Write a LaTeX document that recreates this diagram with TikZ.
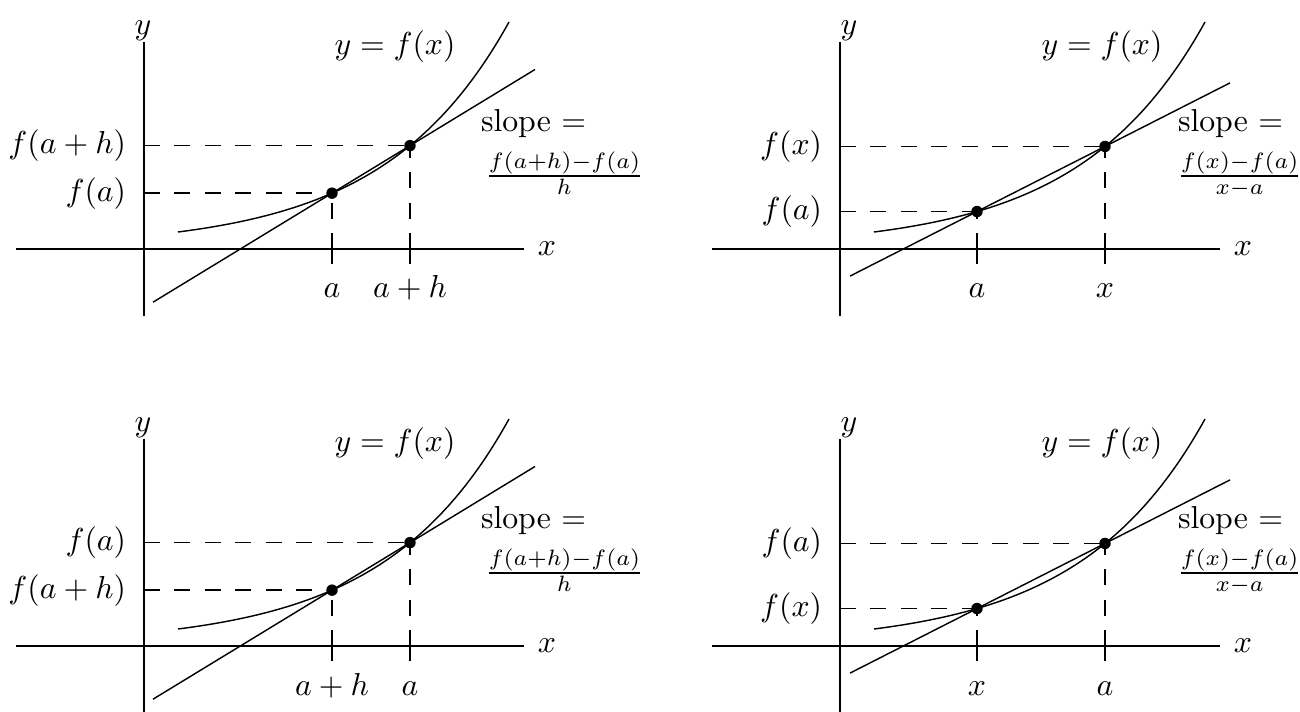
\documentclass[tikz,border=0pt]{standalone}
\usetikzlibrary{calc}
\tikzset{
  axisline/.style={line width=0.6pt},
  curveline/.style={line width=0.45pt},
  dashline/.style={line width=0.45pt, dash pattern=on 5pt off 4.6pt},
  tickline/.style={line width=0.45pt},
  lab/.style={inner sep=0pt, outer sep=0pt},
}
% #1 prefix, #2 shift, #3 u1, #4 u2, #5 below u1, #6 below u2, #7 left u1, #8 left u2, #9 fraction
\newcommand{\mypanel}[9]{%
\begin{scope}[shift={#2}]
  \pgfmathsetmacro\vA{1+12.19*exp(#3/125)}
  \pgfmathsetmacro\vB{1+12.19*exp(#4/125)}
  \pgfmathsetmacro\sl{(\vB-\vA)/(#4-#3)}
  \pgfmathsetmacro\sLv{\vA+\sl*(\secL-#3)}
  \pgfmathsetmacro\sRv{\vA+\sl*(\secR-#3)}
  \coordinate (#1P) at (#3,\vA);
  \coordinate (#1Q) at (#4,\vB);
  \coordinate (#1xl) at (-128,0);
  \coordinate (#1xr) at (380,0);
  \coordinate (#1yb) at (0,-67);
  \coordinate (#1yt) at (0,207);
  \coordinate (#1sL) at (\secL,\sLv);
  \coordinate (#1sR) at (\secR,\sRv);
  \coordinate (#1hA) at (0,\vA);
  \coordinate (#1hB) at (0,\vB);
  \coordinate (#1bA) at (#3,0);
  \coordinate (#1bB) at (#4,0);
  \coordinate (#1tA) at (#3,-15);
  \coordinate (#1tB) at (#4,-15);
  \draw[axisline] (#1xl) -- (#1xr);
  \draw[axisline] (#1yb) -- (#1yt);
  \draw[curveline] plot[domain=34:365, samples=90, smooth] (\x, {1+12.19*exp(\x/125)});
  \draw[curveline] (#1sL) -- (#1sR);
  \draw[dashline] (#1hA) -- (#1P);
  \draw[dashline] (#1hB) -- (#1Q);
  \draw[dashline] (#1bA) -- (#1P);
  \draw[dashline] (#1bB) -- (#1Q);
  \draw[tickline] (#1bA) -- (#1tA);
  \draw[tickline] (#1bB) -- (#1tB);
  \fill (#1P) circle[radius=1.8pt];
  \fill (#1Q) circle[radius=1.8pt];
  \node[lab] (#1xlab) at (403,0) {$x$};
  \node[lab] (#1ylab) at (\ylabu,218) {$y$};
  \node[lab] (#1flab) at (\fu,202) {$y=f(x)$};
  \node[lab, anchor=base] (#1la) at (#3,-49) {#5};
  \node[lab, anchor=base] (#1lb) at (#4,-49) {#6};
  \node[lab, anchor=east] (#1va) at (-18,\vA) {#7};
  \node[lab, anchor=east] (#1vb) at (-18,\vB) {#8};
  \node[lab, anchor=west] (#1slope) at (\su,125) {slope $=$};
  \node[lab, anchor=base west] (#1frac) at (\fracu,65) {#9};
\end{scope}}
\begin{document}
\begin{tikzpicture}[x=0.315pt, y=0.315pt]
\useasboundingbox (0,0) rectangle (1300,711);
% left panels
\def\ylabu{-1}\def\fu{251}\def\su{337}\def\fracu{341}\def\secL{9}\def\secR{391}
\mypanel{tl}{(144,462)}{188}{266}{$a$}{$a+h$}{$f(a)$}{$f(a+h)$}{$\frac{f(a+h)-f(a)}{h}$}
\mypanel{bl}{(144,65)}{188}{266}{$a+h$}{$a$}{$f(a+h)$}{$f(a)$}{$\frac{f(a+h)-f(a)}{h}$}
% right panels
\def\ylabu{9}\def\fu{262}\def\su{338}\def\fracu{337}\def\secL{10}\def\secR{390}
\mypanel{tr}{(840,462)}{137}{265}{$a$}{$x$}{$f(a)$}{$f(x)$}{$\frac{f(x)-f(a)}{x-a}$}
\mypanel{br}{(840,65)}{137}{265}{$x$}{$a$}{$f(x)$}{$f(a)$}{$\frac{f(x)-f(a)}{x-a}$}
\end{tikzpicture}
\end{document}
